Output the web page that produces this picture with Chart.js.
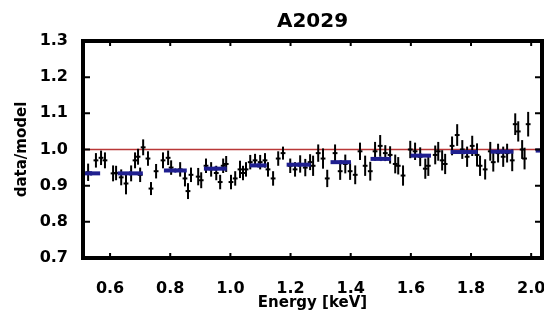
<!DOCTYPE html>
<html>
<head>
<meta charset="utf-8">
<script src="https://cdn.jsdelivr.net/npm/chart.js@4.4.0/dist/chart.umd.min.js"></script>
<style>
  body { margin: 0; background: #fff; }
  canvas { display: block; }
</style>
</head>
<body>
<canvas id="chart" width="544" height="320"></canvas>
<script>
// data/model ratio, A2029
const energy = [
  0.527, 0.553, 0.570, 0.583, 0.610, 0.620, 0.637, 0.653, 0.670, 0.683, 0.693, 0.700,
  0.710, 0.726, 0.736, 0.753, 0.776, 0.793, 0.803, 0.833, 0.849, 0.859, 0.869, 0.893,
  0.903, 0.919, 0.936, 0.953, 0.966, 0.976, 0.986, 1.002, 1.016, 1.032, 1.042, 1.052,
  1.066, 1.082, 1.099, 1.115, 1.125, 1.142, 1.159, 1.175, 1.199, 1.215, 1.232, 1.249,
  1.265, 1.275, 1.292, 1.308, 1.322, 1.348, 1.365, 1.382, 1.398, 1.415, 1.431, 1.448,
  1.465, 1.481, 1.498, 1.515, 1.531, 1.548, 1.558, 1.574, 1.598, 1.614, 1.631, 1.648,
  1.658, 1.681, 1.691, 1.704, 1.714, 1.737, 1.754, 1.771, 1.787, 1.804, 1.820, 1.830,
  1.847, 1.864, 1.874, 1.890, 1.907, 1.920, 1.937, 1.947, 1.957, 1.970, 1.978, 1.990
];
const ratio = [
  0.937, 0.970, 0.977, 0.970, 0.934, 0.935, 0.923, 0.906, 0.934, 0.970, 0.980, 0.930,
  1.006, 0.975, 0.892, 0.940, 0.970, 0.977, 0.950, 0.945, 0.920, 0.885, 0.930, 0.925,
  0.915, 0.955, 0.945, 0.935, 0.910, 0.955, 0.960, 0.910, 0.920, 0.945, 0.935, 0.945,
  0.965, 0.970, 0.965, 0.970, 0.945, 0.920, 0.975, 0.990, 0.955, 0.945, 0.960, 0.950,
  0.965, 0.955, 0.990, 0.975, 0.920, 0.990, 0.940, 0.960, 0.940, 0.930, 0.995, 0.955,
  0.940, 0.995, 1.010, 0.990, 0.985, 0.960, 0.955, 0.928, 1.000, 0.995, 0.980, 0.947,
  0.955, 0.985, 0.995, 0.970, 0.960, 1.010, 1.040, 1.000, 0.980, 1.010, 0.985, 0.955,
  0.945, 0.995, 0.965, 0.990, 0.980, 0.990, 0.970, 1.070, 1.050, 1.000, 0.975, 1.070
];
const ratioErr = [
  0.024, 0.020, 0.020, 0.022, 0.022, 0.020, 0.022, 0.030, 0.022, 0.022, 0.022, 0.020,
  0.022, 0.020, 0.018, 0.020, 0.022, 0.020, 0.020, 0.020, 0.022, 0.022, 0.020, 0.024,
  0.022, 0.020, 0.020, 0.020, 0.020, 0.020, 0.022, 0.020, 0.020, 0.024, 0.020, 0.020,
  0.020, 0.018, 0.020, 0.020, 0.020, 0.020, 0.020, 0.018, 0.020, 0.020, 0.024, 0.024,
  0.022, 0.028, 0.024, 0.028, 0.024, 0.024, 0.024, 0.026, 0.024, 0.026, 0.024, 0.028,
  0.026, 0.026, 0.030, 0.022, 0.024, 0.026, 0.024, 0.028, 0.024, 0.024, 0.026, 0.028,
  0.028, 0.026, 0.026, 0.028, 0.028, 0.026, 0.030, 0.026, 0.028, 0.028, 0.032, 0.028,
  0.028, 0.026, 0.026, 0.026, 0.028, 0.026, 0.030, 0.030, 0.028, 0.026, 0.030, 0.034
];
const binHalf = 0.008;

// wide bins (blue)
const wideEnergy = [0.537, 0.667, 0.817, 0.950, 1.093, 1.227, 1.367, 1.500, 1.633, 1.777, 1.903, 2.050];
const wideRatio = [0.934, 0.934, 0.942, 0.947, 0.956, 0.958, 0.965, 0.974, 0.983, 0.993, 0.994, 0.997];
const wideHalf = [0.030, 0.042, 0.038, 0.038, 0.028, 0.040, 0.034, 0.034, 0.034, 0.045, 0.038, 0.035];
const wideErr = [0.006, 0.006, 0.006, 0.006, 0.006, 0.006, 0.006, 0.006, 0.006, 0.006, 0.006, 0.006];

const refLevel = 1.0;
const xRange = [0.51, 2.036];
const yRange = [0.7, 1.3];
const xTicks = [0.6, 0.8, 1.0, 1.2, 1.4, 1.6, 1.8, 2.0];
const yTicks = [0.7, 0.8, 0.9, 1.0, 1.1, 1.2, 1.3];

const errorBars = {
  id: 'errorBars',
  afterDatasetsDraw(chart) {
    const { ctx, scales: { x, y } } = chart;
    chart.data.datasets.forEach(ds => {
      if (!ds.errors) return;
      const e = ds.errors;
      ctx.save();
      ctx.strokeStyle = ds.borderColor;
      ds.data.forEach((p, i) => {
        const px = x.getPixelForValue(p.x);
        const py = y.getPixelForValue(p.y);
        ctx.lineWidth = e.hWidth;
        ctx.beginPath();
        ctx.moveTo(x.getPixelForValue(p.x - e.x[i]), py);
        ctx.lineTo(x.getPixelForValue(p.x + e.x[i]), py);
        ctx.stroke();
        ctx.lineWidth = e.vWidth;
        ctx.beginPath();
        ctx.moveTo(px, y.getPixelForValue(p.y - e.y[i]));
        ctx.lineTo(px, y.getPixelForValue(p.y + e.y[i]));
        ctx.stroke();
      });
      ctx.restore();
    });
  }
};

const frame = {
  id: 'frame',
  afterDraw(chart) {
    const { ctx, chartArea: a, scales: { x, y } } = chart;
    ctx.save();
    ctx.strokeStyle = '#000';
    ctx.lineWidth = 2;
    ctx.beginPath();
    xTicks.forEach(v => {
      const px = x.getPixelForValue(v);
      ctx.moveTo(px, a.bottom); ctx.lineTo(px, a.bottom - 5);
      ctx.moveTo(px, a.top); ctx.lineTo(px, a.top + 5);
    });
    yTicks.forEach(v => {
      const py = y.getPixelForValue(v);
      ctx.moveTo(a.left, py); ctx.lineTo(a.left + 7, py);
      ctx.moveTo(a.right, py); ctx.lineTo(a.right - 7, py);
    });
    ctx.stroke();
    ctx.lineWidth = 4;
    ctx.strokeRect(a.left, a.top, a.right - a.left, a.bottom - a.top);
    ctx.restore();
  }
};

const font = (size) => ({ family: 'DejaVu Sans', weight: 'bold', size });

new Chart(document.getElementById('chart'), {
  type: 'scatter',
  data: {
    datasets: [
      {
        type: 'line',
        data: [{ x: xRange[0], y: refLevel }, { x: xRange[1], y: refLevel }],
        borderColor: 'rgb(185,55,55)',
        borderWidth: 1.5,
        pointRadius: 0
      },
      {
        data: energy.map((e, i) => ({ x: e, y: ratio[i] })),
        borderColor: '#000',
        pointRadius: 0,
        errors: { x: energy.map(() => binHalf), y: ratioErr, hWidth: 2, vWidth: 2 }
      },
      {
        data: wideEnergy.map((e, i) => ({ x: e, y: wideRatio[i] })),
        borderColor: '#1f1f8f',
        pointRadius: 0,
        errors: { x: wideHalf, y: wideErr, hWidth: 4, vWidth: 2 }
      }
    ]
  },
  options: {
    responsive: false,
    animation: false,
    layout: { padding: { right: 2 } },
    plugins: {
      legend: { display: false },
      tooltip: { enabled: false },
      title: {
        display: true,
        text: 'A2029',
        color: '#000',
        font: font(20),
        fullSize: false,
        padding: { top: 10, bottom: 7 }
      }
    },
    scales: {
      x: {
        type: 'linear',
        min: xRange[0],
        max: xRange[1],
        afterBuildTicks: s => { s.ticks = xTicks.map(v => ({ value: v })); },
        afterFit: s => { s.paddingLeft = 0; s.paddingRight = 0; s.height = 62; },
        ticks: {
          color: '#000',
          font: font(16),
          padding: 13,
          maxRotation: 0,
          autoSkip: false,
          callback: v => v.toFixed(1)
        },
        grid: { display: false },
        border: { display: false },
        title: {
          display: true,
          text: 'Energy [keV]',
          color: '#000',
          font: font(15),
          padding: { top: 0, bottom: 8 }
        }
      },
      y: {
        min: yRange[0],
        max: yRange[1],
        afterBuildTicks: s => { s.ticks = yTicks.map(v => ({ value: v })); },
        afterFit: s => { s.width = 83; },
        ticks: {
          color: '#000',
          font: font(16),
          padding: 7,
          callback: v => v.toFixed(1)
        },
        grid: { display: false },
        border: { display: false },
        title: {
          display: true,
          text: 'data/model',
          color: '#000',
          font: font(15),
          padding: { top: 13, bottom: 0 }
        }
      }
    }
  },
  plugins: [errorBars, frame]
});
</script>
</body>
</html>
